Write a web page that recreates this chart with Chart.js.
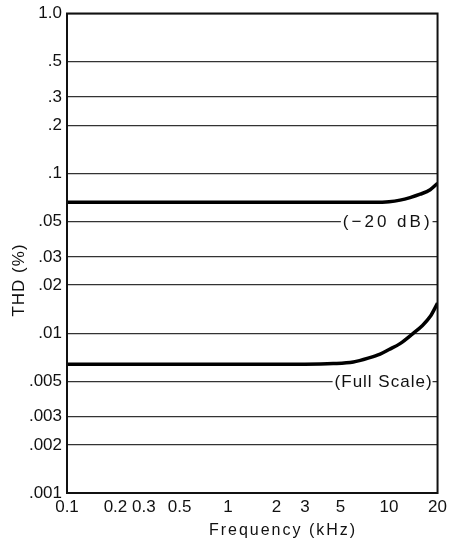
<!DOCTYPE html>
<html><head><meta charset="utf-8">
<script src="https://cdn.jsdelivr.net/npm/chart.js@4"></script>
<style>html,body{margin:0;padding:0;background:#fff}#wrap{width:451px;height:546px}</style>
</head><body><div id="wrap"><canvas id="c"></canvas></div>
<script>
const xTicks = [0.1, 0.2, 0.3, 0.5, 1, 2, 3, 5, 10, 20];
const xTickLabels = ['0.1', '0.2', '0.3', '0.5', '1', '2', '3', '5', '10', '20'];
const yTicks = [1.0, 0.5, 0.3, 0.2, 0.1, 0.05, 0.03, 0.02, 0.01, 0.005, 0.003, 0.002, 0.001];
const yTickLabels = ['1.0', '.5', '.3', '.2', '.1', '.05', '.03', '.02', '.01', '.005', '.003', '.002', '.001'];

const freqM20 = [0.1, 0.3, 1, 3, 8, 10, 11.7, 13.5, 15.6, 18, 20];
const thdM20 = [0.066, 0.066, 0.066, 0.066, 0.066, 0.0665, 0.068, 0.0705, 0.074, 0.079, 0.0866];
const freqFS = [0.1, 0.3, 1, 3, 4.5, 6, 7.5, 8.8, 10, 11.7, 14, 16, 18, 20];
const thdFS = [0.0064, 0.0064, 0.0064, 0.0064, 0.00645, 0.0066, 0.0070, 0.0074, 0.0079, 0.0086, 0.0099, 0.0111, 0.0127, 0.0154];

const curveLabels = ['(\u221220 dB)', '(Full Scale)'];
const curveLabelAt = [0.05, 0.005];
const xTitle = 'Frequency (kHz)';
const yTitle = 'THD (%)';

const font = "'Liberation Sans', Arial, sans-serif";
const labelSpacing = ['3px', '1px'];

const deco = {
  id: 'deco',
  afterDatasetsDraw(chart) {
    const ctx = chart.ctx, a = chart.chartArea, ys = chart.scales.y;
    ctx.save();
    ctx.font = '17px ' + font;
    ctx.textBaseline = 'middle';
    ctx.textAlign = 'left';
    curveLabels.forEach((t, i) => {
      const py = ys.getPixelForValue(curveLabelAt[i]);
      ctx.letterSpacing = labelSpacing[i];
      const w = ctx.measureText(t).width;
      const xr = a.right - 5;
      ctx.fillStyle = '#fff';
      ctx.fillRect(xr - w - 2, py - 8, w + 2, 16);
      ctx.fillStyle = '#111';
      ctx.fillText(t, xr - w, py + 1);
    });
    ctx.strokeStyle = '#111';
    ctx.lineWidth = 2;
    ctx.strokeRect(a.left, a.top, a.right - a.left, a.bottom - a.top);
    // x title
    ctx.font = '16px ' + font;
    ctx.letterSpacing = '2px';
    ctx.textAlign = 'center';
    ctx.fillText(xTitle, 283, 531);
    // rotated y-axis title
    ctx.translate(19, 280);
    ctx.rotate(-Math.PI / 2);
    ctx.font = '17px ' + font;
    ctx.letterSpacing = '1px';
    ctx.fillText(yTitle, 0, 0);
    ctx.restore();
  }
};

new Chart(document.getElementById('c'), {
  type: 'line',
  data: {
    datasets: [
      {label: '-20 dB', data: freqM20.map((f, i) => ({x: f, y: thdM20[i]})),
       borderColor: '#000', borderWidth: 3.5, pointRadius: 0, cubicInterpolationMode: 'monotone', fill: false},
      {label: 'Full Scale', data: freqFS.map((f, i) => ({x: f, y: thdFS[i]})),
       borderColor: '#000', borderWidth: 3.5, pointRadius: 0, cubicInterpolationMode: 'monotone', fill: false}
    ]
  },
  options: {
    responsive: true, maintainAspectRatio: false, animation: false,
    layout: {padding: {top: 12, right: 13, left: 0, bottom: 0}},
    plugins: {legend: {display: false}, tooltip: {enabled: false}},
    scales: {
      x: {
        type: 'logarithmic', min: 0.1, max: 20,
        afterBuildTicks: s => { s.ticks = xTicks.map(v => ({value: v})); },
        afterFit: s => { s.height = 53; },
        grid: {display: false, drawTicks: false},
        border: {display: false},
        ticks: {
          autoSkip: false, maxRotation: 0, padding: 4, color: '#111',
          font: {family: font, size: 17},
          callback: (v) => { const i = xTicks.indexOf(v); return i >= 0 ? xTickLabels[i] : ''; }
        },
        title: {display: false}
      },
      y: {
        type: 'logarithmic', min: 0.001, max: 1.0,
        afterBuildTicks: s => { s.ticks = yTicks.map(v => ({value: v})); },
        afterFit: s => { s.width = 67; },
        grid: {color: '#333', lineWidth: 1.3, drawTicks: false},
        border: {display: false},
        ticks: {
          autoSkip: false, padding: 5, color: '#111',
          font: {family: font, size: 17, lineHeight: 1},
          callback: (v) => { const i = yTicks.indexOf(v); return i >= 0 ? yTickLabels[i] : ''; }
        },
        title: {display: false}
      }
    }
  },
  plugins: [deco]
});
</script></body></html>
